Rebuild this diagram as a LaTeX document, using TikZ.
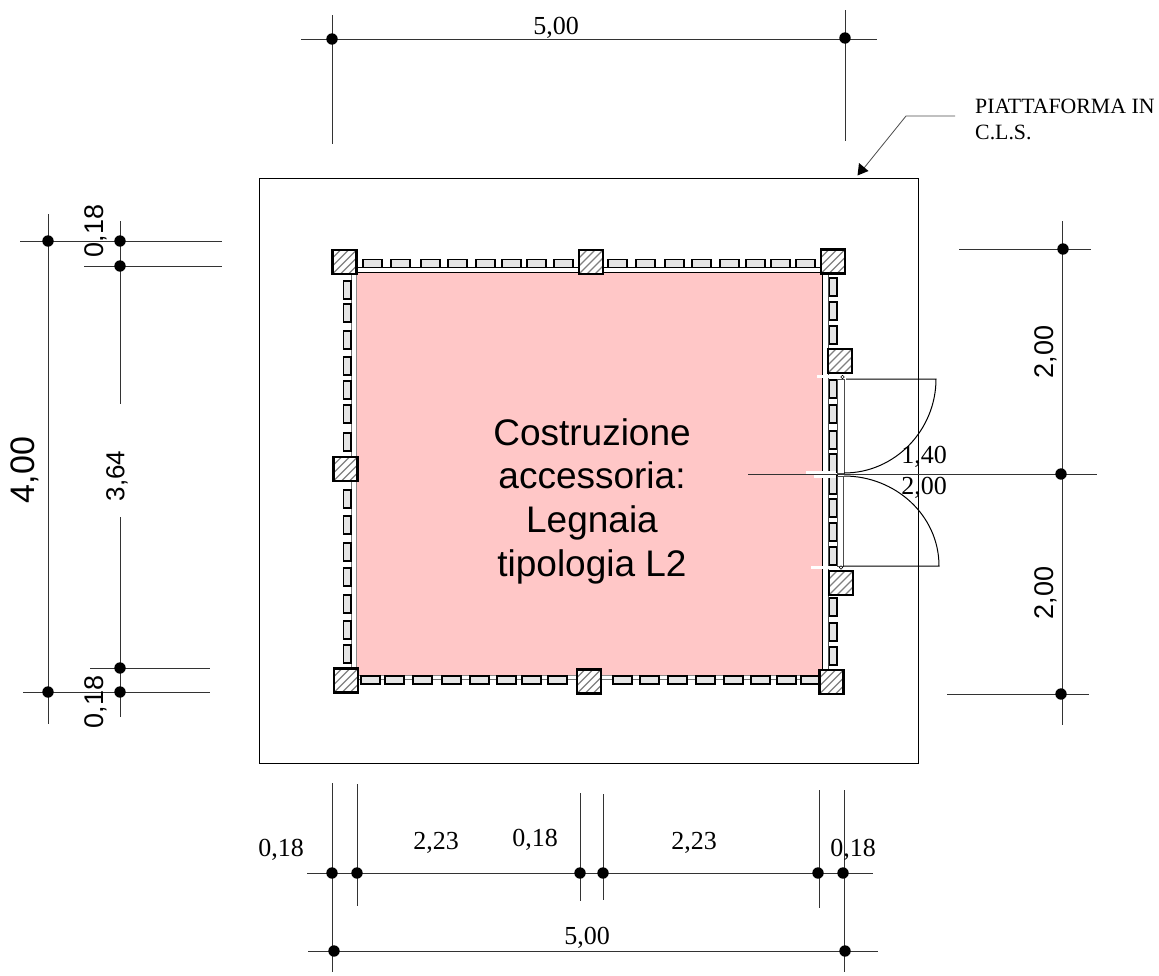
\documentclass[tikz,border=0pt]{standalone}
\usepackage{fontspec}
\setmainfont{Liberation Serif}
\newfontfamily\arialfont{Liberation Sans}
\tikzset{
  dimline/.style={black!80,line width=0.95pt},
  dimtext/.style={inner sep=0pt,font=\fontsize{26}{26}\selectfont},
  dimsans/.style={inner sep=0pt,rotate=90,font=\arialfont\fontsize{27}{27}\selectfont},
  brick/.style={draw=black,fill=black!10,line width=1.9pt},
  pier/.style={draw=black,line width=2.4pt},
  gap/.style={white,line width=2.6pt},
}
\begin{document}
\begin{tikzpicture}[x=1pt,y=-1pt]
  \useasboundingbox (0,0) rectangle (1159,975);
  % slab and room
  \draw[black,line width=1pt] (259,178) rectangle (918,763);
  \fill[fill=red!22,fill opacity=1] (356.5,272.5) rectangle (822,675.5);
  \draw[black,line width=0.9pt] (356,272.5) -- (822,272.5);
  \draw[black,line width=0.9pt] (822,272.5) -- (822,675);
  \draw[black!45,line width=0.9pt] (356.5,272.5) -- (356.5,675.5) -- (822,675.5);
  \draw[black,line width=0.9pt] (357,267.5) -- (821,267.5);
  \draw[black!55,line width=0.9pt] (351,274) -- (351,668);
  \draw[black!55,line width=0.9pt] (358,679.5) -- (820,679.5);
  \draw[black!70,line width=0.9pt] (828,274) -- (828,670);
  % bricks, top wall
  \foreach \x in {363,391,421,448,476,502,527,554,608,636,665,692,720,746,771,796}
    \draw[brick] (\x,259.5) rectangle ++(19,8);
  % bricks, bottom wall
  \foreach \x in {361,385,413,442,470,497,522,548,613,640,668,696,724,751,777,801}
    \draw[brick] (\x,676) rectangle ++(19,8);
  % bricks, left wall
  \foreach \y in {281,304,331,357,381,405,433,490,516,543,568,595,621,645}
    \draw[brick] (343.5,\y) rectangle ++(7.5,18);
  % bricks, right wall
  \foreach \y in {278,302,326,380,405,431,454,476,499,523,547,598,623,647}
    \draw[brick] (829.5,\y) rectangle ++(7.5,18);
  % piers
  \foreach \x/\y in {344.5/262,591/262,833/261.5,345.5/469,840/361,841/583,346/680.5,589/681.5,831.5/682}{
    \begin{scope}
      \clip (\x-12,\y-12) rectangle (\x+12,\y+12);
      \fill[white] (\x-12,\y-12) rectangle (\x+12,\y+12);
      \foreach \k in {-32,-24,...,32}
        \draw[black!50,line width=1.3pt] (\x+\k-14,\y+14) -- (\x+\k+14,\y-14);
    \end{scope}
    \draw[pier] (\x-12,\y-12) rectangle (\x+12,\y+12);
  }
  % doors
  \draw[gap] (817,376.5) -- (840,376.5);
  \draw[gap] (806,472.5) -- (836,472.5);
  \draw[gap] (814,476.5) -- (836,476.5);
  \draw[gap] (811,567.5) -- (836,567.5);
  \draw[black!70,line width=0.9pt] (837.5,379) rectangle (844,473);
  \draw[black!70,line width=0.9pt] (837.5,476) rectangle (843,566);
  \draw[black,line width=0.6pt,fill=white] (842.5,377) circle (1.8);
  \draw[black,line width=0.6pt,fill=white] (841,567.5) circle (1.8);
  \draw[black,line width=1pt] (846,379) -- (936,379) .. controls (936,430) and (895,473) .. (844,473);
  \draw[black,line width=1pt] (843,566) -- (939,566) .. controls (939,515) and (895,476) .. (844,476);
  % platform leader
  \draw[black!70,line width=0.8pt] (955,116) -- (906,116) -- (864,168);
  \fill (857.5,175.5) -- (859,163) -- (868.5,171) -- cycle;
  \node[inner sep=0pt,anchor=north west,align=left,font=\fontsize{21.8}{26}\selectfont] (slablabel) at (975,99) {PIATTAFORMA IN\\C.L.S.};
  % room label
  \node[inner sep=0pt,align=center,font=\arialfont\fontsize{37}{43.7}\selectfont] (roomlabel) at (592,501) {Costruzione\\accessoria:\\Legnaia\\tipologia L2};
  % top dimension
  \draw[dimline] (301,39) -- (877,39);
  \draw[dimline] (332,15) -- (332,144);
  \draw[dimline] (845,10) -- (845,141);
  \node[dimtext] (topwidth) at (556,27.5) {5,00};
  % left dimensions
  \draw[dimline] (48,214) -- (48,724);
  \draw[dimline] (120,221) -- (120,404);
  \draw[dimline] (120,517) -- (120,717);
  \draw[dimline] (20,241) -- (222,241);
  \draw[dimline] (84,266) -- (222,266);
  \draw[dimline] (90,668) -- (210,668);
  \draw[dimline] (23,692) -- (210,692);
  \node[dimsans,font=\arialfont\fontsize{34}{34}\selectfont] (leftheight) at (25,470) {4,00};
  \node[dimsans,font=\arialfont\fontsize{26}{26}\selectfont] (innerheight) at (117,476) {3,64};
  \node[dimsans] (topwall) at (96,231) {0,18};
  \node[dimsans] (bottomwall) at (96,702) {0,18};
  % right dimensions
  \draw[dimline] (1062,221) -- (1062,725);
  \draw[dimline] (959,249) -- (1091,249);
  \draw[dimline] (748,474) -- (1097,474);
  \draw[dimline] (947,694) -- (1089,694);
  \node[dimsans] (rightupper) at (1046,352) {2,00};
  \node[dimsans] (rightlower) at (1046,593) {2,00};
  \node[dimtext] (doorwidth) at (924,457) {1,40};
  \node[dimtext] (doorheight) at (924,488) {2,00};
  % bottom dimensions
  \draw[dimline] (332,783) -- (332,972);
  \draw[dimline] (357,784) -- (357,906);
  \draw[dimline] (580,793) -- (580,901);
  \draw[dimline] (603,794) -- (603,900);
  \draw[dimline] (819,790) -- (819,908);
  \draw[dimline] (844,790) -- (844,972);
  \draw[dimline] (307,873) -- (873,873);
  \draw[dimline] (308,951) -- (878,951);
  \node[dimtext] (leftwall) at (281,850) {0,18};
  \node[dimtext] (leftspan) at (436,842.5) {2,23};
  \node[dimtext] (midwall) at (535,839.5) {0,18};
  \node[dimtext] (rightspan) at (694,842.5) {2,23};
  \node[dimtext] (rightwall) at (853,849.5) {0,18};
  \node[dimtext] (bottomwidth) at (587,937.5) {5,00};
  % dimension dots
  \foreach \x/\y in {332/39,845/38,48/241,120/241,120/266,120/668,120/692,48/692,1063/249,1061/474,1061/694,332/873,357/873,580/873,603/873,818/873,843/873,334/951,845/951}
    \fill (\x,\y) circle (5.7);
\end{tikzpicture}
\end{document}
